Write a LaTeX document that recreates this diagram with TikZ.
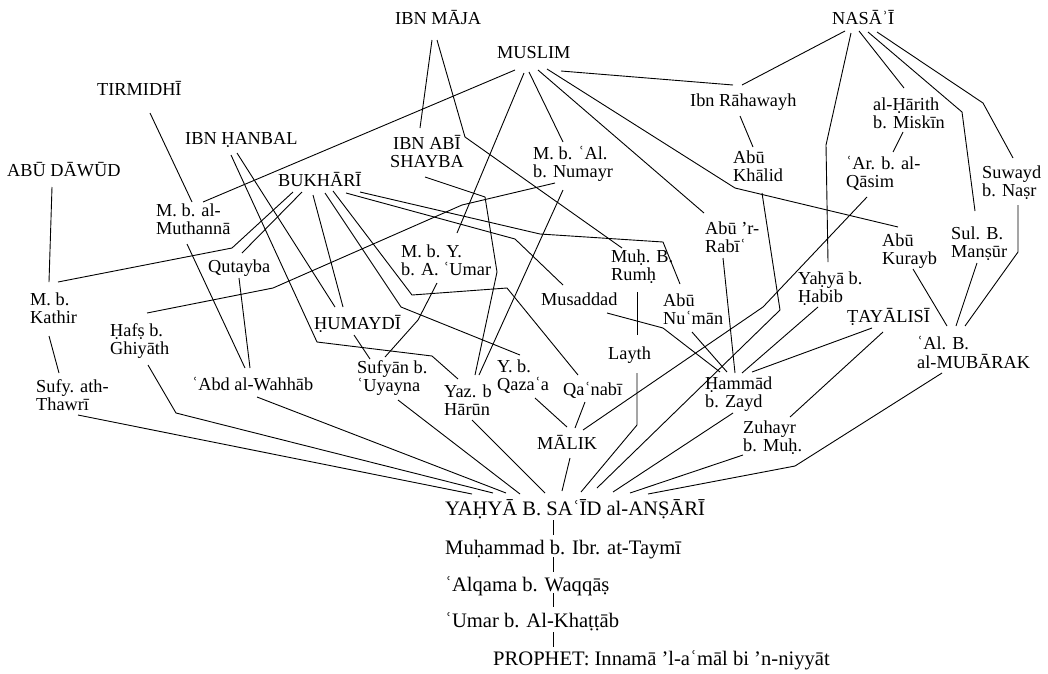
\documentclass[tikz,border=0pt]{standalone}
\usepackage{fontspec}
\setmainfont{Liberation Serif}
% two-line label whose baseline is that of its first line
\newcommand\stackl[2]{\begin{tabular}[t]{@{}l@{}}#1\\#2\end{tabular}}
\newcommand\stackc[2]{\begin{tabular}[t]{@{}c@{}}#1\\#2\end{tabular}}
\begin{document}
\begin{tikzpicture}[x=1pt,y=-1pt,
  lbl/.style={inner sep=0pt, anchor=base west,
    font=\fontsize{18.3}{18.5}\selectfont},
  chainlbl/.style={inner sep=0pt, anchor=base west,
    font=\fontsize{20.6}{22}\selectfont},
  link/.style={line width=0.9pt, black}]
\useasboundingbox (0,0) rectangle (1048,673);

% collectors
\node[lbl] (ibnmaja) at (395,24) {IBN MĀJA};
\node[lbl] (muslim) at (497,58) {MUSLIM};
\node[lbl] (nasai) at (832,24) {NASĀʾĪ};
\node[lbl] (tirmidhi) at (97,95) {TIRMIDHĪ};
\node[lbl] (hanbal) at (185,144) {IBN ḤANBAL};
\node[lbl] (dawud) at (7,176) {ABŪ DĀWŪD};
\node[lbl] (bukhari) at (278,186) {BUKHĀRĪ};
\node[lbl] (shayba) at (390,149) {\stackc{IBN ABĪ}{SHAYBA}};
\node[lbl] (tayalisi) at (847,322) {ṬAYĀLISĪ};

% transmitters
\node[lbl] (numayr) at (533,159) {\stackl{M. b. ʿAl.}{b. Numayr}};
\node[lbl] (rahawayh) at (690,106) {Ibn Rāhawayh};
\node[lbl] (harith) at (873,110) {\stackl{al-Ḥārith}{b. Miskīn}};
\node[lbl] (khalid) at (733,163) {\stackl{Abū}{Khālid}};
\node[lbl] (qasim) at (846,169) {\stackl{ʿAr. b. al-}{Qāsim}};
\node[lbl] (suwayd) at (982,178) {\stackl{Suwayd}{b. Naṣr}};
\node[lbl] (muthanna) at (156,216) {\stackl{M. b. al-}{Muthannā}};
\node[lbl] (qutayba) at (208,272) {Qutayba};
\node[lbl] (kathir) at (30,305) {\stackl{M. b.}{Kathir}};
\node[lbl] (hafs) at (110,336) {\stackl{Ḥafṣ b.}{Ghiyāth}};
\node[lbl] (thawri) at (36,392) {\stackl{Sufy. ath-}{Thawrī}};
\node[lbl] (wahhab) at (192,390) {ʿAbd al-Wahhāb};
\node[lbl] (humaydi) at (314,329) {ḤUMAYDĪ};
\node[lbl] (uyayna) at (357,373) {\stackl{Sufyān b.}{ʿUyayna}};
\node[lbl] (mbyumar) at (401,257) {\stackl{M. b. Y.}{b. A. ʿUmar}};
\node[lbl] (harun) at (444,397) {\stackl{Yaz. b}{Hārūn}};
\node[lbl] (qazaa) at (497,372) {\stackl{Y. b.}{Qazaʿa}};
\node[lbl] (qanabi) at (563,395) {Qaʿnabī};
\node[lbl] (malik) at (537,449) {MĀLIK};
\node[lbl] (musaddad) at (541,305) {Musaddad};
\node[lbl] (rumh) at (611,262) {\stackl{Muḥ. B.}{Rumḥ}};
\node[lbl] (layth) at (608,359) {Layth};
\node[lbl] (numan) at (663,306) {\stackl{Abū}{Nuʿmān}};
\node[lbl] (rabi) at (705,234) {\stackl{Abū ’r-}{Rabīʿ}};
\node[lbl] (kurayb) at (882,246) {\stackl{Abū}{Kurayb}};
\node[lbl] (mansur) at (951,239) {\stackl{Sul. B.}{Manṣūr}};
\node[lbl] (habib) at (798,284) {\stackl{Yaḥyā b.}{Ḥabib}};
\node[lbl] (mubarak) at (917,349) {\stackl{ʿAl. B.}{al-MUBĀRAK}};
\node[lbl] (hammad) at (705,389) {\stackl{Ḥammād}{b. Zayd}};
\node[lbl] (zuhayr) at (743,433) {\stackl{Zuhayr}{b. Muḥ.}};

% common chain
\node[chainlbl] (yahya) at (445,515) {YAḤYĀ B. SAʿĪD al-ANṢĀRĪ};
\node[chainlbl] (taymi) at (445,554) {Muḥammad b. Ibr. at-Taymī};
\node[chainlbl] (alqama) at (445,591) {ʿAlqama b. Waqqāṣ};
\node[chainlbl] (umar) at (445,627) {ʿUmar b. Al-Khaṭṭāb};
\node[chainlbl] (prophet) at (493,665) {PROPHET: Innamā ’l-aʿmāl bi ’n-niyyāt};

% Ibn Maja
\draw[link] ([shift={(37,16)}]ibnmaja.base west) -- ([shift={(30,-21)}]shayba.base west);
\draw[link] ([shift={(42,16)}]ibnmaja.base west) -- (465,137) -- ([shift={(11,-14)}]rumh.base west);
% Muslim
\draw[link] ([shift={(18,12)}]muslim.base west) -- ([shift={(47,-14)}]muthanna.base west);
\draw[link] ([shift={(27,15)}]muslim.base west) -- ([shift={(56,-24)}]mbyumar.base west);
\draw[link] ([shift={(32,14)}]muslim.base west) -- ([shift={(30,-17)}]numayr.base west);
\draw[link] ([shift={(41,12)}]muslim.base west) -- ([shift={(-1,-21)}]rabi.base west);
\draw[link] ([shift={(50,11)}]muslim.base west) -- (735,188) -- ([shift={(16,-19)}]kurayb.base west);
\draw[link] ([shift={(64,13)}]muslim.base west) -- ([shift={(43,-21)}]rahawayh.base west);
% Nasa'i
\draw[link] ([shift={(13,7)}]nasai.base west) -- ([shift={(52,-21)}]rahawayh.base west);
\draw[link] ([shift={(19,9)}]nasai.base west) -- (826,145) -- ([shift={(30,-22)}]habib.base west);
\draw[link] ([shift={(27,7)}]nasai.base west) -- ([shift={(31,-22)}]harith.base west);
\draw[link] ([shift={(36,8)}]nasai.base west) -- (962,112) -- ([shift={(24,-28)}]mansur.base west);
\draw[link] ([shift={(45,8)}]nasai.base west) -- (983,103) -- ([shift={(31,-20)}]suwayd.base west);
% Tirmidhi, Ibn Hanbal, Abu Dawud
\draw[link] ([shift={(53,18)}]tirmidhi.base west) -- ([shift={(36,-14)}]muthanna.base west);
\draw[link] ([shift={(46,11)}]hanbal.base west) -- (317,342) -- (432,356) -- ([shift={(14,-18)}]harun.base west);
\draw[link] ([shift={(52,9)}]hanbal.base west) -- ([shift={(21,-22)}]humaydi.base west);
\draw[link] ([shift={(45,11)}]dawud.base west) -- ([shift={(19,-23)}]kathir.base west);
% Bukhari
\draw[link] ([shift={(15,6)}]bukhari.base west) -- (232,248) -- ([shift={(28,-23)}]kathir.base west);
\draw[link] ([shift={(24,6)}]bukhari.base west) -- ([shift={(34,-19)}]qutayba.base west);
\draw[link] ([shift={(35,9)}]bukhari.base west) -- ([shift={(29,-22)}]humaydi.base west);
\draw[link] ([shift={(47,7)}]bukhari.base west) -- (401,307) -- ([shift={(23,-17)}]qazaa.base west);
\draw[link] ([shift={(55,5)}]bukhari.base west) -- (412,295) -- (507,288) -- ([shift={(15,-20)}]qanabi.base west);
\draw[link] ([shift={(68,7)}]bukhari.base west) -- (515,239) -- ([shift={(22,-20)}]musaddad.base west);
\draw[link] ([shift={(82,6)}]bukhari.base west) -- (540,234) -- (663,242) -- ([shift={(17,-22)}]numan.base west);
% second tier
\draw[link] ([shift={(35,28)}]shayba.base west) -- (485,197) -- (497,272) -- ([shift={(31,-22)}]harun.base west);
\draw[link] ([shift={(30,31)}]numayr.base west) -- ([shift={(35,-22)}]harun.base west);
\draw[link] ([shift={(22,24)}]numayr.base west) -- (462,205) -- (273,288) -- ([shift={(37,-23)}]hafs.base west);
\draw[link] ([shift={(36,26)}]mbyumar.base west) -- (418,320) -- ([shift={(28,-16)}]uyayna.base west);
\draw[link] ([shift={(40,6)}]humaydi.base west) -- ([shift={(13,-14)}]uyayna.base west);
\draw[link] ([shift={(31,28)}]muthanna.base west) -- ([shift={(53,-22)}]wahhab.base west);
\draw[link] ([shift={(31,6)}]qutayba.base west) -- ([shift={(58,-22)}]wahhab.base west);
\draw[link] ([shift={(19,31)}]kathir.base west) -- ([shift={(23,-19)}]thawri.base west);
\draw[link] ([shift={(50,10)}]rahawayh.base west) -- ([shift={(20,-16)}]khalid.base west);
\draw[link] ([shift={(30,22)}]harith.base west) -- ([shift={(47,-17)}]qasim.base west);
\draw[link] ([shift={(26,30)}]rumh.base west) -- ([shift={(29,-24)}]layth.base west);
\draw[link] ([shift={(21,28)}]qasim.base west) -- (763,307) -- ([shift={(46,-19)}]malik.base west);
\draw[link] ([shift={(29,30)}]khalid.base west) -- (780,310) -- ([shift={(152,-27)}]yahya.base west);
\draw[link] ([shift={(29,14)}]layth.base west) -- (637,425) -- ([shift={(136,-23)}]yahya.base west);
% into Hammad b. Zayd
\draw[link] ([shift={(18,24)}]rabi.base west) -- ([shift={(30,-16)}]hammad.base west);
\draw[link] ([shift={(29,26)}]numan.base west) -- ([shift={(22,-17)}]hammad.base west);
\draw[link] ([shift={(66,8)}]musaddad.base west) -- (663,328) -- ([shift={(15,-17)}]hammad.base west);
\draw[link] ([shift={(20,23)}]habib.base west) -- ([shift={(37,-16)}]hammad.base west);
\draw[link] ([shift={(25,6)}]tayalisi.base west) -- ([shift={(47,-17)}]hammad.base west);
\draw[link] ([shift={(36,10)}]tayalisi.base west) -- ([shift={(47,-16)}]zuhayr.base west);
% into Ibn al-Mubarak
\draw[link] ([shift={(31,23)}]kurayb.base west) -- ([shift={(30,-23)}]mubarak.base west);
\draw[link] ([shift={(26,24)}]mansur.base west) -- ([shift={(39,-23)}]mubarak.base west);
\draw[link] ([shift={(36,27)}]suwayd.base west) -- (1018,252) -- ([shift={(48,-23)}]mubarak.base west);
% into Yahya b. Sa'id
\draw[link] ([shift={(28,24)}]hammad.base west) -- ([shift={(168,-23)}]yahya.base west);
\draw[link] ([shift={(0,22)}]zuhayr.base west) -- ([shift={(185,-22)}]yahya.base west);
\draw[link] ([shift={(25,24)}]mubarak.base west) -- (795,466) -- ([shift={(203,-21)}]yahya.base west);
\draw[link] ([shift={(42,23)}]thawri.base west) -- ([shift={(27,-21)}]yahya.base west);
\draw[link] ([shift={(38,29)}]hafs.base west) -- (176,413) -- ([shift={(48,-22)}]yahya.base west);
\draw[link] ([shift={(65,7)}]wahhab.base west) -- ([shift={(61,-22)}]yahya.base west);
\draw[link] ([shift={(41,27)}]uyayna.base west) -- ([shift={(75,-21)}]yahya.base west);
\draw[link] ([shift={(28,23)}]harun.base west) -- ([shift={(100,-22)}]yahya.base west);
\draw[link] ([shift={(38,26)}]qazaa.base west) -- ([shift={(30,-22)}]malik.base west);
\draw[link] ([shift={(22,7)}]qanabi.base west) -- ([shift={(38,-21)}]malik.base west);
\draw[link] ([shift={(33,9)}]malik.base west) -- ([shift={(117,-24)}]yahya.base west);
% chain down to the Prophet
\draw[link] ([shift={(108,5)}]yahya.base west) -- ([shift={(108,-19)}]taymi.base west);
\draw[link] ([shift={(108,3)}]taymi.base west) -- ([shift={(108,-19)}]alqama.base west);
\draw[link] ([shift={(108,2)}]alqama.base west) -- ([shift={(108,-20)}]umar.base west);
\draw[link] ([shift={(108,5)}]umar.base west) -- ([shift={(60,-18)}]prophet.base west);
\end{tikzpicture}
\end{document}
